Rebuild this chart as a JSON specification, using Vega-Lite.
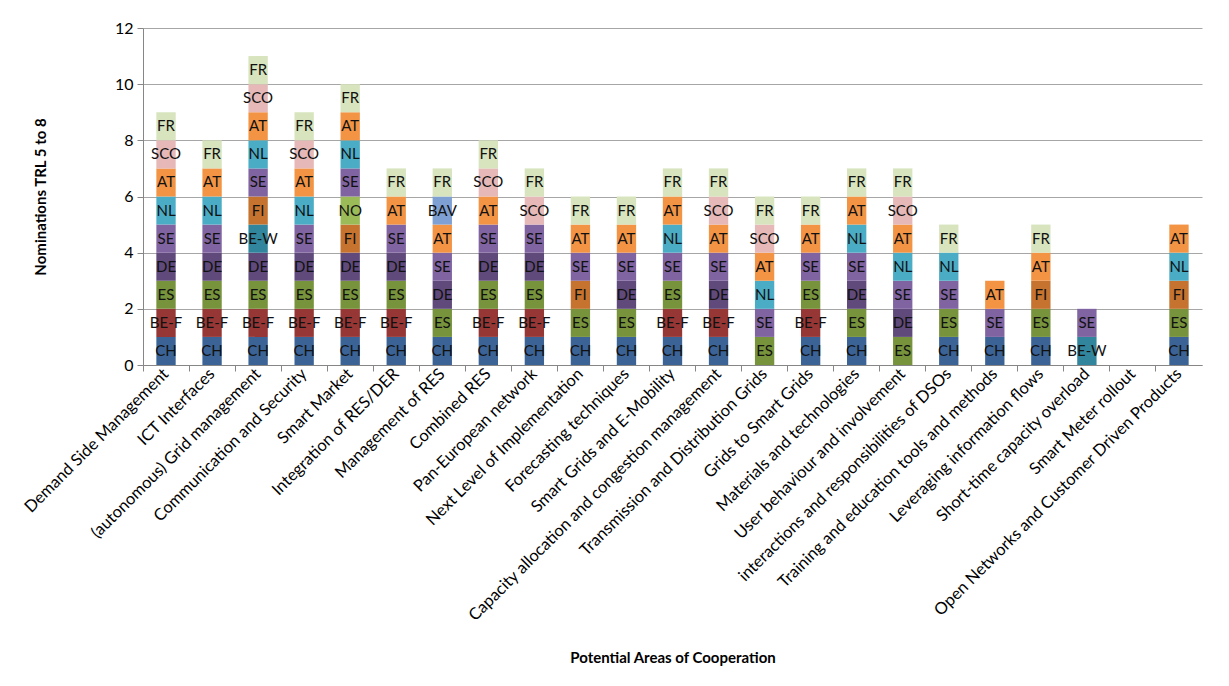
{
  "$schema": "https://vega.github.io/schema/vega-lite/v6.json",
  "width": 1059,
  "height": 337,
  "autosize": {"type": "none"},
  "padding": {"left": 143, "top": 28, "right": 27, "bottom": 321},
  "background": "white",
  "config": {
    "font": "Lato",
    "view": {"stroke": null},
    "axis": {"labelFont": "Lato", "titleFont": "Lato", "labelColor": "#000000", "titleColor": "#000000"}
  },
  "datasets": {
    "ranks": [
      {"c": "CH", "rank": 1},
      {"c": "BE-F", "rank": 2},
      {"c": "ES", "rank": 3},
      {"c": "DE", "rank": 4},
      {"c": "BE-W", "rank": 5},
      {"c": "FI", "rank": 6},
      {"c": "NO", "rank": 7},
      {"c": "SE", "rank": 8},
      {"c": "NL", "rank": 9},
      {"c": "AT", "rank": 10},
      {"c": "BAV", "rank": 11},
      {"c": "SCO", "rank": 12},
      {"c": "FR", "rank": 13}
    ]
  },
  "data": {
    "values": [
      {"area": "Demand Side Management", "c": ["CH", "BE-F", "ES", "DE", "SE", "NL", "AT", "SCO", "FR"]},
      {"area": "ICT Interfaces", "c": ["CH", "BE-F", "ES", "DE", "SE", "NL", "AT", "FR"]},
      {"area": "(autonomous) Grid management", "c": ["CH", "BE-F", "ES", "DE", "BE-W", "FI", "SE", "NL", "AT", "SCO", "FR"]},
      {"area": "Communication and Security", "c": ["CH", "BE-F", "ES", "DE", "SE", "NL", "AT", "SCO", "FR"]},
      {"area": "Smart Market", "c": ["CH", "BE-F", "ES", "DE", "FI", "NO", "SE", "NL", "AT", "FR"]},
      {"area": "Integration of RES/DER", "c": ["CH", "BE-F", "ES", "DE", "SE", "AT", "FR"]},
      {"area": "Management of RES", "c": ["CH", "ES", "DE", "SE", "AT", "BAV", "FR"]},
      {"area": "Combined RES", "c": ["CH", "BE-F", "ES", "DE", "SE", "AT", "SCO", "FR"]},
      {"area": "Pan-European network", "c": ["CH", "BE-F", "ES", "DE", "SE", "SCO", "FR"]},
      {"area": "Next Level of Implementation", "c": ["CH", "ES", "FI", "SE", "AT", "FR"]},
      {"area": "Forecasting techniques", "c": ["CH", "ES", "DE", "SE", "AT", "FR"]},
      {"area": "Smart Grids and E-Mobility", "c": ["CH", "BE-F", "ES", "SE", "NL", "AT", "FR"]},
      {"area": "Capacity allocation and congestion management", "c": ["CH", "BE-F", "DE", "SE", "AT", "SCO", "FR"]},
      {"area": "Transmission and Distribution Grids", "c": ["ES", "SE", "NL", "AT", "SCO", "FR"]},
      {"area": "Grids to Smart Grids", "c": ["CH", "BE-F", "ES", "SE", "AT", "FR"]},
      {"area": "Materials and technologies", "c": ["CH", "ES", "DE", "SE", "NL", "AT", "FR"]},
      {"area": "User behaviour and involvement", "c": ["ES", "DE", "SE", "NL", "AT", "SCO", "FR"]},
      {"area": "interactions and responsibilities of DSOs", "c": ["CH", "ES", "SE", "NL", "FR"]},
      {"area": "Training and education tools and methods", "c": ["CH", "SE", "AT"]},
      {"area": "Leveraging information flows", "c": ["CH", "ES", "FI", "AT", "FR"]},
      {"area": "Short-time capacity overload", "c": ["BE-W", "SE"]},
      {"area": "Smart Meter rollout", "c": []},
      {"area": "Open Networks and Customer Driven Products", "c": ["CH", "ES", "FI", "NL", "AT"]}
    ]
  },
  "transform": [
    {"flatten": ["c"]},
    {"lookup": "c", "from": {"data": {"name": "ranks"}, "key": "c", "fields": ["rank"]}}
  ],
  "encoding": {
    "y": {
      "aggregate": "count",
      "type": "quantitative",
      "stack": "zero",
      "scale": {"domain": [0, 12]},
      "axis": {
        "values": [0, 2, 4, 6, 8, 10, 12],
        "title": "Nominations TRL 5 to 8",
        "titleFontSize": 15,
        "titleFontWeight": "bold",
        "titlePadding": 66,
        "labelFontSize": 16,
        "labelPadding": 4,
        "tickSize": 6,
        "tickColor": "#868686",
        "domainColor": "#868686",
        "gridColor": "#a6a6a6",
        "grid": true
      }
    },
    "order": {"field": "rank", "type": "quantitative"},
    "detail": {"field": "c", "type": "nominal"}
  },
  "layer": [
    {
      "mark": {"type": "bar"},
      "encoding": {
        "x": {
          "field": "area",
          "type": "nominal",
          "scale": {
            "domain": ["Demand Side Management", "ICT Interfaces", "(autonomous) Grid management", "Communication and Security", "Smart Market", "Integration of RES/DER", "Management of RES", "Combined RES", "Pan-European network", "Next Level of Implementation", "Forecasting techniques", "Smart Grids and E-Mobility", "Capacity allocation and congestion management", "Transmission and Distribution Grids", "Grids to Smart Grids", "Materials and technologies", "User behaviour and involvement", "interactions and responsibilities of DSOs", "Training and education tools and methods", "Leveraging information flows", "Short-time capacity overload", "Smart Meter rollout", "Open Networks and Customer Driven Products"],
            "paddingInner": 0.58,
            "paddingOuter": 0.29
          },
          "axis": {
            "title": "Potential Areas of Cooperation",
            "titleFontSize": 15,
            "titleFontWeight": "bold",
            "titlePadding": 85,
            "labelAngle": -45,
            "labelAlign": "right",
            "labelBaseline": "middle",
            "labelFontSize": 16.5,
            "labelPadding": 6,
            "labelLimit": 500,
            "ticks": false,
            "domainColor": "#868686"
          }
        },
        "color": {
          "field": "c",
          "type": "nominal",
          "legend": null,
          "scale": {
            "domain": ["CH", "BE-F", "ES", "DE", "BE-W", "FI", "NO", "SE", "NL", "AT", "BAV", "SCO", "FR"],
            "range": ["#3b6396", "#963735", "#77933c", "#604a7b", "#31859c", "#c5732f", "#9bbb59", "#8064a2", "#4bacc6", "#f39445", "#7ea0d3", "#e6b9b8", "#d7e4bd"]
          }
        }
      }
    },
    {
      "mark": {"type": "text", "dy": 14, "fontSize": 15, "baseline": "middle", "color": "#111111"},
      "encoding": {
        "x": {
          "field": "area",
          "type": "nominal",
          "axis": {
            "bandPosition": -0.69,
            "labels": false,
            "title": null,
            "domain": false,
            "ticks": true,
            "tickSize": 6,
            "tickColor": "#868686",
            "orient": "bottom"
          }
        },
        "text": {"field": "c", "type": "nominal"}
      }
    }
  ],
  "resolve": {"axis": {"x": "independent"}}
}
